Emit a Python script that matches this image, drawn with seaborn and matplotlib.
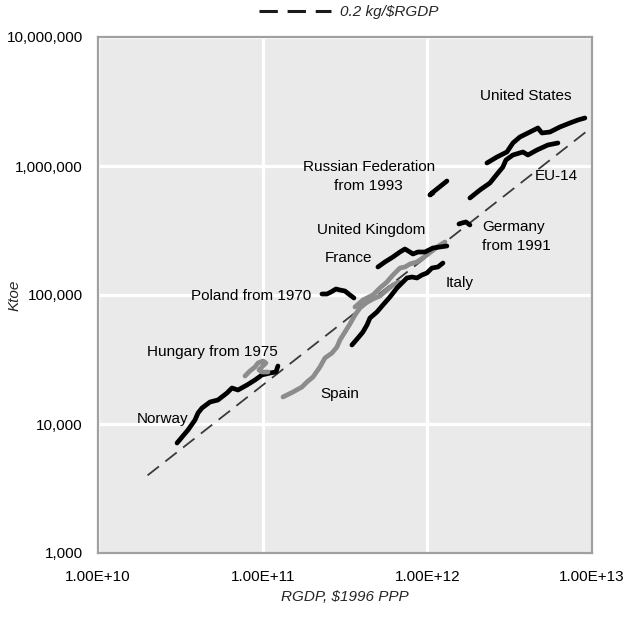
import matplotlib
matplotlib.use("Agg")
import matplotlib.pyplot as plt
import pandas as pd
import seaborn as sns
from matplotlib.lines import Line2D
from matplotlib.ticker import FuncFormatter, FixedLocator, NullLocator

# Real GDP (billion 1996 PPP dollars) and primary energy use (Ktoe)
norway_gdp = [30.2, 32.4, 35.2, 38.8, 40.5, 42.8, 47.9, 53.5, 60.7, 65.1, 70.8, 80.3, 89.8, 99.0, 110.7, 120.4, 123.8]
norway_ktoe = [7124, 7929, 8985, 10740, 12170, 13300, 14810, 15350, 17390, 19010, 18350, 20060, 21930, 23990, 24850, 25290, 28160]

hungary_gdp = [78.1, 83.7, 89.8, 93.7, 100.4, 104.7, 99.0, 95.0, 99.0, 107.7]
hungary_ktoe = [23550, 25760, 27670, 29720, 30790, 29720, 27670, 26220, 25290, 25290]

poland_gdp = [229.1, 245.7, 259.9, 278.6, 294.7, 316.0, 338.8, 358.4]
poland_ktoe = [101800, 101800, 105500, 111300, 109300, 107400, 100000, 94780]

spain_gdp = [132.8, 152.8, 173.3, 185.8, 202.1, 222.8, 238.9, 263.5, 282.6, 294.7,
             316.0, 338.8, 363.5, 389.8, 423.9, 467.4, 515.4, 568.4, 618.0, 672.4]
spain_ktoe = [16200, 17700, 19360, 21170, 23140, 27670, 32480, 35510, 39540, 44800,
              51680, 59600, 69980, 79300, 86700, 93110, 98220, 109300, 119600, 126200]

france_gdp = [363.5, 406.4, 467.4, 515.4, 568.4, 618.0, 681.8, 731.1, 784.1, 864.9, 994.5, 1144, 1279]
france_ktoe = [80720, 91470, 100000, 113300, 126200, 142900, 161900, 164900, 173900, 180300, 204300, 235600, 257600]

uk_gdp = [501.2, 552.7, 618.0, 681.8, 731.1, 784.1, 817.6, 877.1, 967.0, 1081, 1193, 1315]
uk_ktoe = [164900, 180300, 197100, 215400, 227300, 215400, 207900, 215400, 215400, 231400, 235600, 239900]

italy_gdp = [348.3, 379.0, 406.4, 429.9, 448.3, 494.3, 537.5, 592.9, 653.8, 701.2,
             751.8, 806.3, 864.9, 927.4, 994.5, 1067, 1160, 1244]
italy_ktoe = [40980, 46420, 51680, 58540, 66310, 73840, 83650, 96500, 113300, 123900,
              135500, 137900, 135500, 142900, 148100, 161900, 164900, 177000]

russia_gdp = [1315, 1227, 1144, 1067, 1037, 1081]
russia_ktoe = [765200, 712400, 663400, 617700, 596000, 617700]

germany_gdp = [1556, 1622, 1715, 1814]
germany_ktoe = [355200, 361500, 368100, 348900]

eu14_gdp = [1814, 2087, 2399, 2684, 2877, 3001, 3309, 3806, 4082, 4629, 5398, 6209]
eu14_ktoe = [564900, 651700, 738400, 882300, 982200, 1113000, 1217000, 1284000, 1217000, 1330000, 1455000, 1508000]

us_gdp = [2301, 2647, 3043, 3309, 3649, 4198, 4694, 4964, 5552, 6383, 7339, 8212, 9057]
us_ktoe = [1055000, 1174000, 1284000, 1508000, 1678000, 1834000, 1971000, 1803000, 1834000, 2006000, 2154000, 2273000, 2356000]

# Reference intensity line: 0.2 kg oil equivalent per dollar of RGDP
intensity_kg_per_dollar = 0.2
ref_gdp = [2e10, 1e13]

series = {
    "Norway": (norway_gdp, norway_ktoe, "black"),
    "Hungary from 1975": (hungary_gdp, hungary_ktoe, "#8c8c8c"),
    "Poland from 1970": (poland_gdp, poland_ktoe, "black"),
    "Spain": (spain_gdp, spain_ktoe, "#8c8c8c"),
    "France": (france_gdp, france_ktoe, "#8c8c8c"),
    "United Kingdom": (uk_gdp, uk_ktoe, "black"),
    "Italy": (italy_gdp, italy_ktoe, "black"),
    "Russian Federation": (russia_gdp, russia_ktoe, "black"),
    "Germany": (germany_gdp, germany_ktoe, "black"),
    "EU-14": (eu14_gdp, eu14_ktoe, "black"),
    "United States": (us_gdp, us_ktoe, "black"),
}

rows = []
for name, (gdp, ktoe, _) in series.items():
    for g, e in zip(gdp, ktoe):
        rows.append({"country": name, "rgdp": g * 1e9, "ktoe": e})
df = pd.DataFrame(rows)
palette = {name: c for name, (_, _, c) in series.items()}

ref = pd.DataFrame({"rgdp": ref_gdp})
ref["ktoe"] = ref["rgdp"] * intensity_kg_per_dollar / 1e6

sns.set_theme(style="darkgrid")
plt.rcParams["font.family"] = ["Liberation Sans", "DejaVu Sans"]

fig = plt.figure(figsize=(6.27, 6.2), dpi=100)
ax = fig.add_axes([98 / 627, 1 - 553 / 620, (592 - 98) / 627, (553 - 37) / 620])
ax.set_facecolor("#eaeaea")

sns.lineplot(data=ref, x="rgdp", y="ktoe", ax=ax, color="#3a3a3a", lw=1.3,
             linestyle=(0, (8, 4.5)), legend=False)
sns.lineplot(data=df, x="rgdp", y="ktoe", hue="country", palette=palette,
             sort=False, estimator=None, ax=ax, lw=3.4, legend=False,
             solid_capstyle="round", solid_joinstyle="round")

ax.set_xscale("log")
ax.set_yscale("log")
ax.set_xlim(1e10, 1e13)
ax.set_ylim(1e3, 1e7)
ax.xaxis.set_major_locator(FixedLocator([1e10, 1e11, 1e12, 1e13]))
ax.yaxis.set_major_locator(FixedLocator([1e3, 1e4, 1e5, 1e6, 1e7]))
ax.xaxis.set_minor_locator(NullLocator())
ax.yaxis.set_minor_locator(NullLocator())
ax.xaxis.set_major_formatter(FuncFormatter(lambda v, p: f"{v:.2E}"))
ax.yaxis.set_major_formatter(FuncFormatter(lambda v, p: f"{v:,.0f}"))
ax.grid(True, which="major", color="white", lw=2.3)
ax.set_axisbelow(True)
ax.tick_params(axis="both", length=0, labelsize=11, colors="black")
ax.tick_params(axis="y", pad=11)
ax.tick_params(axis="x", pad=12)
for s in ax.spines.values():
    s.set_visible(True)
    s.set_color("#a0a0a0")
    s.set_linewidth(1.6)

ax.set_xlabel("RGDP, $1996 PPP", fontsize=11, style="italic")
ax.set_ylabel("Ktoe", fontsize=11, style="italic")
ax.xaxis.set_label_coords(0.5, -(597 - 553) / 516, transform=ax.transAxes)
ax.xaxis.label.set_va("center")
ax.yaxis.set_label_coords(-(98 - 15) / 494, 0.5, transform=ax.transAxes)
ax.yaxis.label.set_va("center")

# Country labels
lab = dict(fontsize=11, color="black")
ax.text(3.97e12, 3.49e6, "United States", ha="center", va="center", **lab)
ax.text(4.40e11, 8.36e5, "Russian Federation\nfrom 1993", ha="center", va="center",
        linespacing=1.45, **lab)
ax.text(6.04e12, 8.36e5, "EU-14", ha="center", va="center", **lab)
ax.text(2.146e12, 2.83e5, "Germany\nfrom 1991", ha="left", va="center",
        linespacing=1.45, **lab)
ax.text(4.59e11, 3.19e5, "United Kingdom", ha="center", va="center", **lab)
ax.text(3.32e11, 1.945e5, "France", ha="center", va="center", **lab)
ax.text(1.574e12, 1.233e5, "Italy", ha="center", va="center", **lab)
ax.text(1.965e11, 98770, "Poland from 1970", ha="right", va="center", **lab)
ax.text(4.92e10, 36350, "Hungary from 1975", ha="center", va="center", **lab)
ax.text(2.47e10, 10930, "Norway", ha="center", va="center", **lab)
ax.text(2.926e11, 17090, "Spain", ha="center", va="center", **lab)

handle = Line2D([], [], color="#1a1a1a", lw=2.2, linestyle=(0, (6, 3.2)))
fig.legend(handles=[handle], labels=["0.2 kg/$RGDP"], loc="center",
           bbox_to_anchor=(348.5 / 627, 1 - 12 / 620), frameon=False,
           handlelength=4.7, handletextpad=0.6,
           prop={"size": 11, "style": "italic"})

fig.savefig("out.png", dpi=100)
